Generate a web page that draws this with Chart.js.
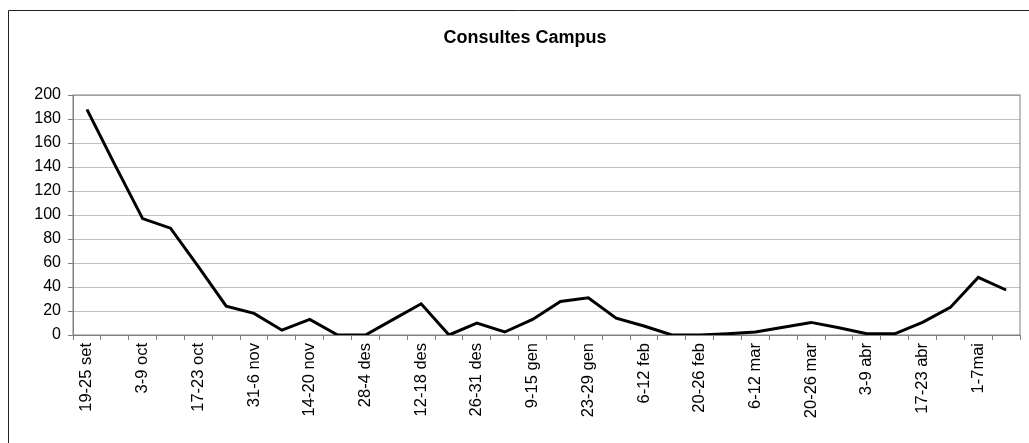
<!DOCTYPE html>
<html>
<head>
<meta charset="utf-8">
<script src="https://cdn.jsdelivr.net/npm/chart.js@4"></script>
<style>
  html, body { margin: 0; padding: 0; background: #fff; }
  #wrap { width: 1029px; height: 443px; position: relative; }
</style>
</head>
<body>
<div id="wrap"><canvas id="line"></canvas></div>
<script>
// Setmanes (una de cada dues etiquetes es mostra)
const weeks = [
  "19-25 set", "26-2 oct", "3-9 oct", "10-16 oct", "17-23 oct", "24-30 oct",
  "31-6 nov", "7-13 nov", "14-20 nov", "21-27 nov", "28-4 des", "5-11 des",
  "12-18 des", "19-25 des", "26-31 des", "2-8 gen", "9-15 gen", "16-22 gen",
  "23-29 gen", "30-5 feb", "6-12 feb", "13-19 feb", "20-26 feb", "27-5 mar",
  "6-12 mar", "13-19 mar", "20-26 mar", "27-2 abr", "3-9 abr", "10-16 abr",
  "17-23 abr", "24-30 abr", "1-7mai", "8-14 mai",
];
const consultes = [
  188, 142, 97, 89, 57, 24, 18, 4, 13, 0, 0, 13,
  26, 0, 10, 2.5, 13, 28, 31, 14, 7.5, 0, 0, 1,
  2.5, 6.5, 10.5, 6, 1, 1, 10.5, 23, 48, 37.5,
];
const yTicks = [0, 20, 40, 60, 80, 100, 120, 140, 160, 180, 200];

const fontFamily = "'Liberation Sans', Arial, sans-serif";

// marc exterior + vora de l'àrea del gràfic
const frames = {
  id: "frames",
  beforeDraw(chart) {
    const c = chart.ctx;
    c.save();
    c.strokeStyle = "#222";
    c.lineWidth = 1;
    c.beginPath();
    c.moveTo(8.5, 443);
    c.lineTo(8.5, 10.5);
    c.lineTo(1029, 10.5);
    c.stroke();
    c.restore();
  },
  beforeDatasetsDraw(chart) {
    const a = chart.chartArea;
    const c = chart.ctx;
    c.save();
    c.strokeStyle = "#808080";
    c.lineWidth = 1;
    c.strokeRect(a.left, a.top, a.right - a.left, a.bottom - a.top);
    c.restore();
  },
};

const ctx = document.getElementById("line").getContext("2d");
new Chart(ctx, {
  type: "line",
  data: {
    labels: weeks,
    datasets: [
      {
        label: "Consultes",
        data: consultes,
        borderColor: "#000",
        borderWidth: 3,
        pointRadius: 0,
        tension: 0,
        fill: false,
      },
    ],
  },
  options: {
    responsive: true,
    maintainAspectRatio: false,
    animation: false,
    layout: { padding: { left: 29, right: 8, top: 0, bottom: 0 } },
    plugins: {
      legend: { display: false },
      tooltip: { enabled: false },
      title: {
        display: true,
        text: "Consultes Campus",
        color: "#000",
        font: { family: fontFamily, size: 18, weight: "bold" },
        padding: { top: 27, bottom: 46.4 },
      },
    },
    scales: {
      x: {
        offset: true,
        grid: {
          offset: true,
          drawOnChartArea: false,
          tickLength: 5,
          color: "#808080",
        },
        border: { color: "#808080" },
        ticks: {
          autoSkip: false,
          maxRotation: 90,
          minRotation: 90,
          padding: 3,
          color: "#000",
          font: { family: fontFamily, size: 16.5 },
          callback: function (val, i) {
            return i % 2 === 0 ? weeks[i] : "";
          },
        },
        afterFit: function (scale) {
          scale.height = 108;
        },
      },
      y: {
        min: 0,
        max: 200,
        afterBuildTicks: function (scale) {
          scale.ticks = yTicks.map((v) => ({ value: v }));
        },
        grid: {
          color: "#c0c0c8",
          tickLength: 5,
          tickColor: "#808080",
        },
        border: { color: "#808080" },
        ticks: {
          padding: 7,
          color: "#000",
          font: { family: fontFamily, size: 16 },
        },
        afterFit: function (scale) {
          scale.width = 44;
        },
      },
    },
  },
  plugins: [frames],
});
</script>
</body>
</html>
